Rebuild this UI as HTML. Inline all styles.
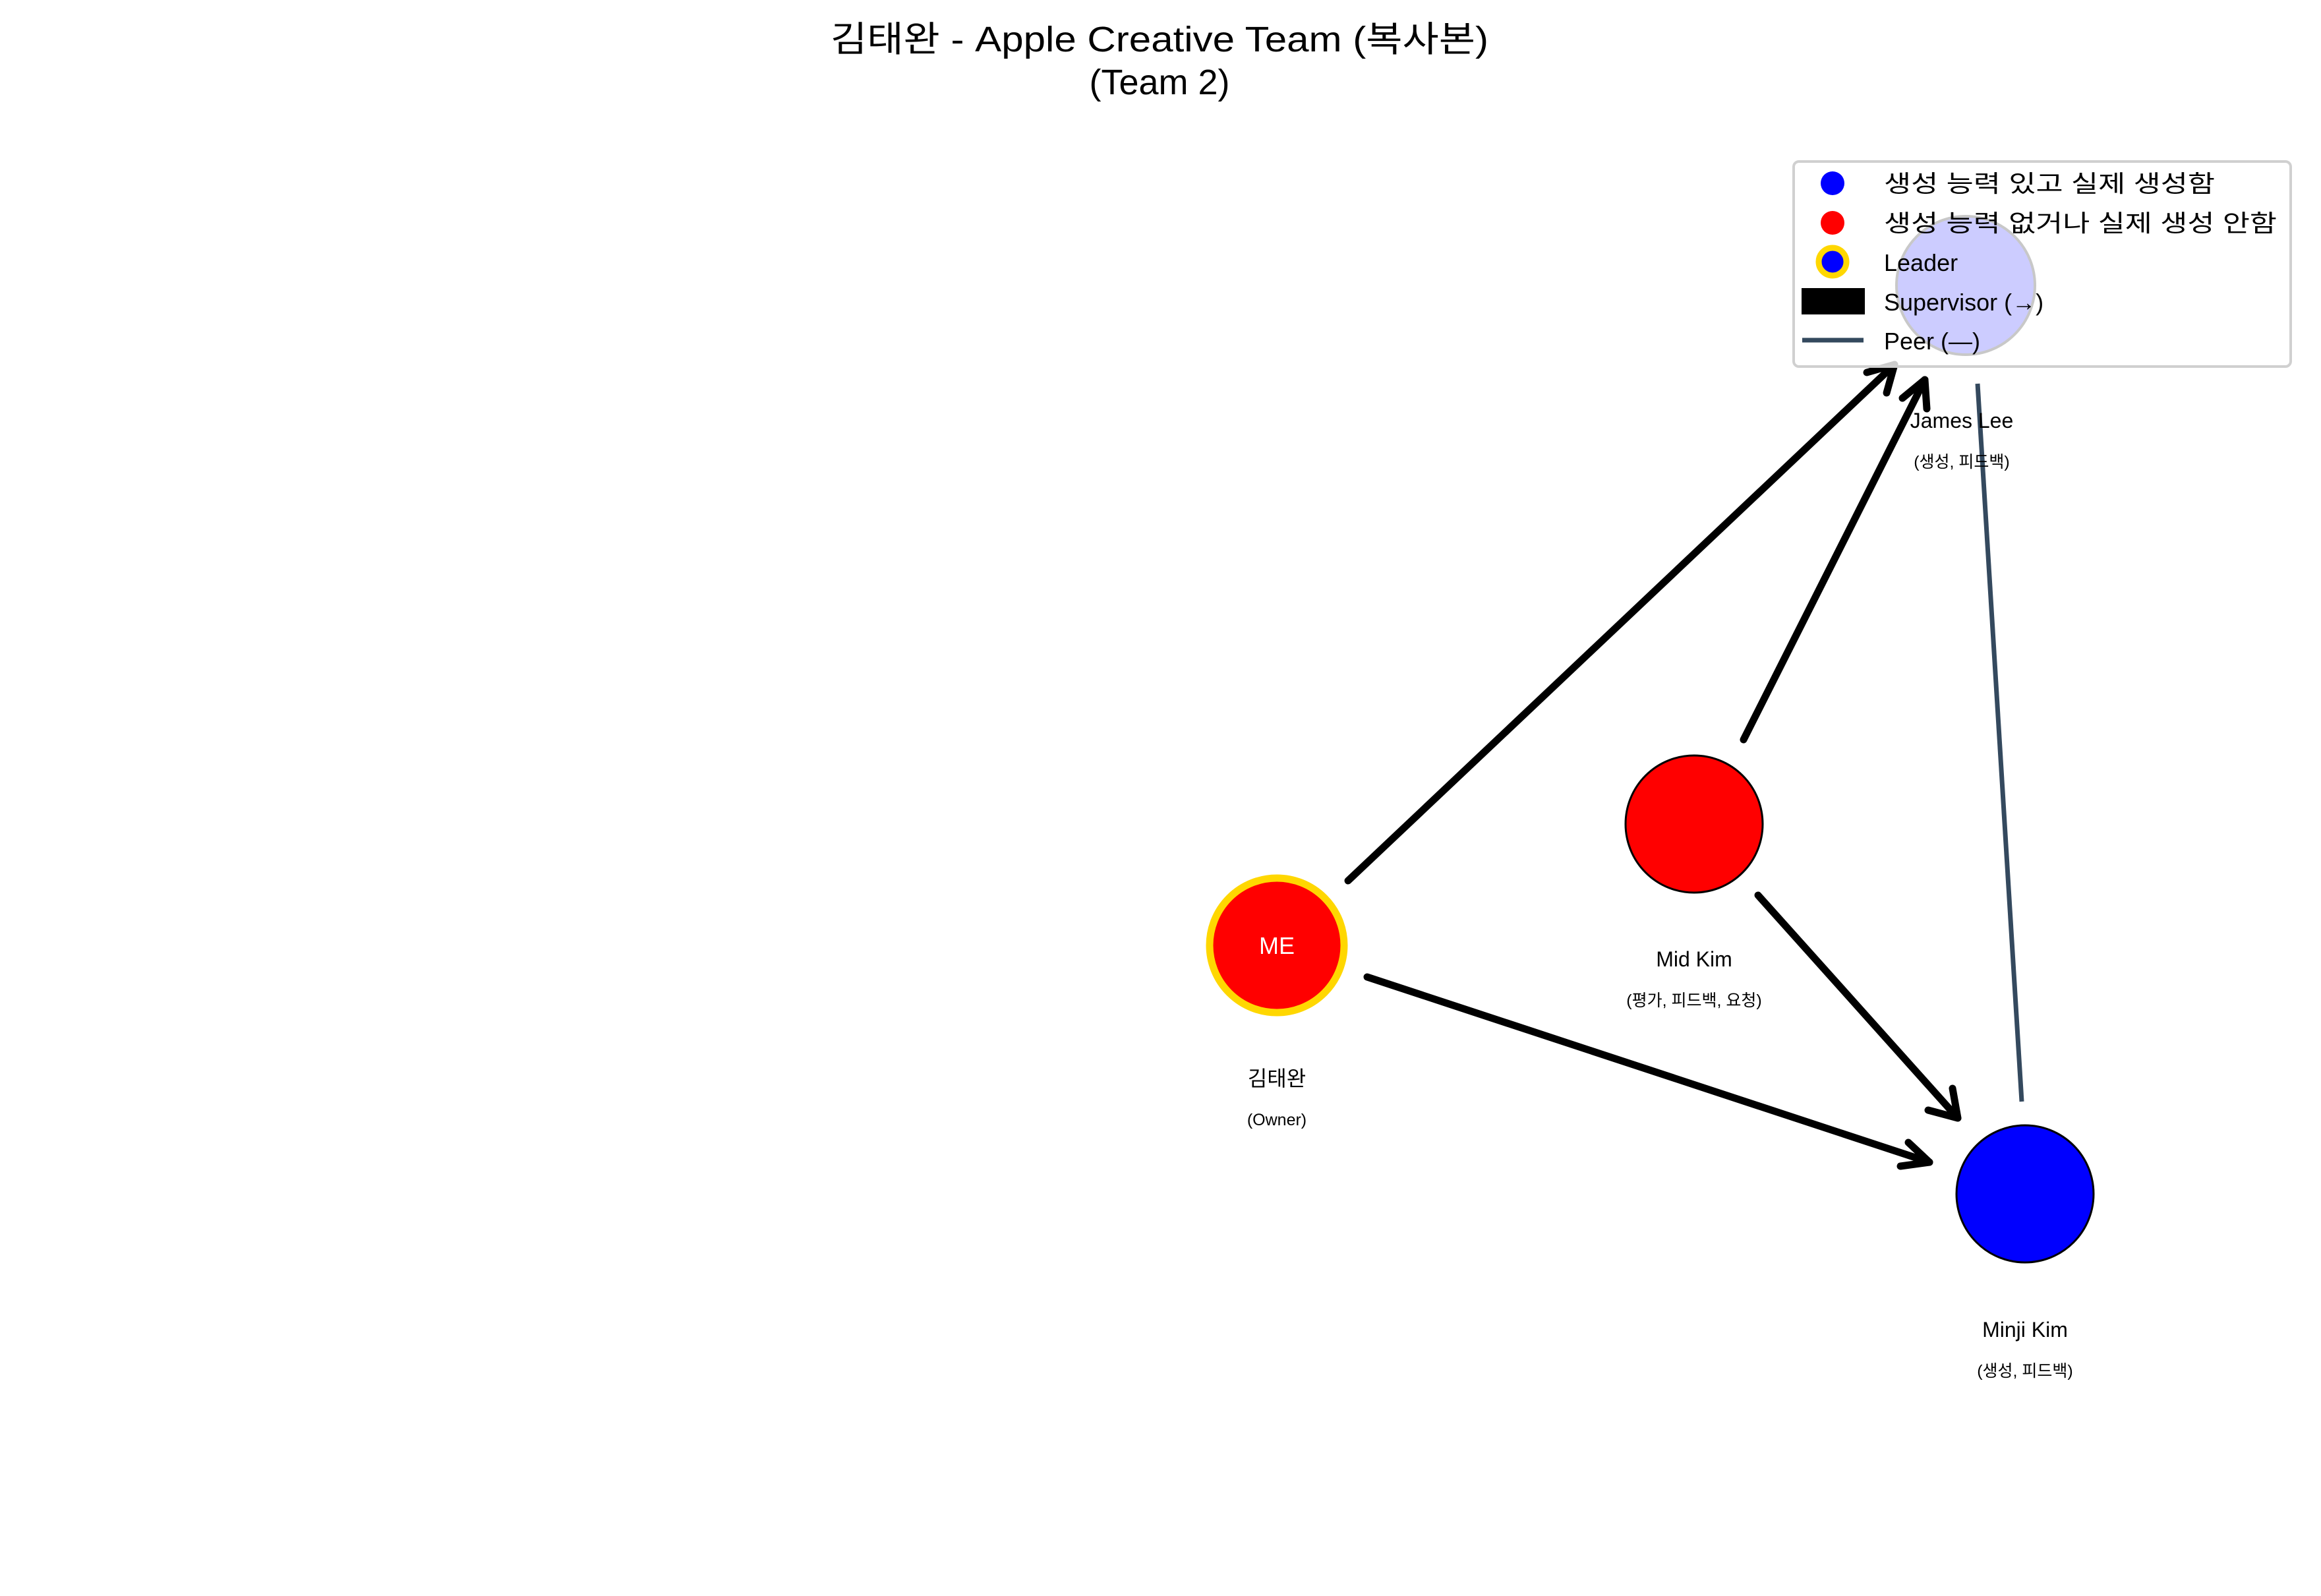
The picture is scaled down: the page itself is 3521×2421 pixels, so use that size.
<!DOCTYPE html>
<html><head><meta charset="utf-8"><style>
html,body{margin:0;padding:0;background:#fff;}
svg{display:block;font-family:"Liberation Sans","Noto Sans CJK KR",sans-serif;}
</style></head><body>
<svg width="3521" height="2421" viewBox="0 0 3521 2421" xmlns="http://www.w3.org/2000/svg">
<rect width="3521" height="2421" fill="#fff"/>
<text x="1759" y="78" font-size="54" text-anchor="middle" textLength="998" lengthAdjust="spacingAndGlyphs">김태완 - Apple Creative Team (복사본)</text>
<text x="1759" y="143" font-size="54" text-anchor="middle">(Team 2)</text>

<line x1="3000" y1="582" x2="3067" y2="1671" stroke="#34495e" stroke-width="7"/>

<g stroke="#000" stroke-width="11" stroke-linecap="round" stroke-linejoin="round" fill="none">
<line x1="2045" y1="1336" x2="2874" y2="553"/>
<polyline points="2832,565 2874,553 2862,596"/>
<line x1="2645" y1="1122" x2="2920" y2="576"/>
<polyline points="2886,604 2920,576 2923,620"/>
<line x1="2074" y1="1482" x2="2927" y2="1763"/>
<polyline points="2895,1733 2927,1763 2883,1769"/>
<line x1="2667" y1="1358" x2="2970" y2="1696"/>
<polyline points="2925,1684 2970,1696 2962,1651"/>
</g>

<circle cx="1937" cy="1434" r="102" fill="#ff0000" stroke="#ffd700" stroke-width="11"/>
<text x="1937" y="1447" font-size="36" fill="#fff" text-anchor="middle">ME</text>
<circle cx="2570" cy="1250" r="104" fill="#ff0000" stroke="#000" stroke-width="3"/>
<circle cx="3072" cy="1811" r="104" fill="#0000ff" stroke="#000" stroke-width="3"/>

<g text-anchor="middle" fill="#000">
<text x="1937" y="1647" font-size="32">김태완</text>
<text x="1937" y="1707" font-size="25">(Owner)</text>
<text x="2570" y="1466" font-size="32">Mid Kim</text>
<text x="2570" y="1526" font-size="25">(평가, 피드백, 요청)</text>
<text x="3072" y="2028" font-size="32">Minji Kim</text>
<text x="3072" y="2088" font-size="25">(생성, 피드백)</text>
<text x="2976" y="649" font-size="32">James Lee</text>
<text x="2976" y="709" font-size="25">(생성, 피드백)</text>
</g>

<rect x="2721" y="245" width="754" height="311" rx="8" fill="#fff" fill-opacity="0.8" stroke="#d0d0d0" stroke-width="4"/>
<circle cx="2982" cy="433" r="105" fill="#ccccff" stroke="#c8c8c8" stroke-width="4"/>
<circle cx="2780" cy="278" r="18" fill="#0000ff"/>
<circle cx="2780" cy="338" r="18" fill="#ff0000"/>
<circle cx="2780" cy="397" r="21" fill="#0000ff" stroke="#ffd700" stroke-width="9"/>
<rect x="2733" y="437" width="96" height="40" fill="#000"/>
<line x1="2734" y1="516" x2="2827" y2="516" stroke="#34495e" stroke-width="7"/>
<g font-size="36" fill="#000">
<text x="2858" y="291" textLength="502" lengthAdjust="spacingAndGlyphs">생성 능력 있고 실제 생성함</text>
<text x="2858" y="351" textLength="596" lengthAdjust="spacingAndGlyphs">생성 능력 없거나 실제 생성 안함</text>
<text x="2858" y="411">Leader</text>
<text x="2858" y="471">Supervisor (→)</text>
<text x="2858" y="530">Peer (—)</text>
</g>
</svg>
</body></html>
